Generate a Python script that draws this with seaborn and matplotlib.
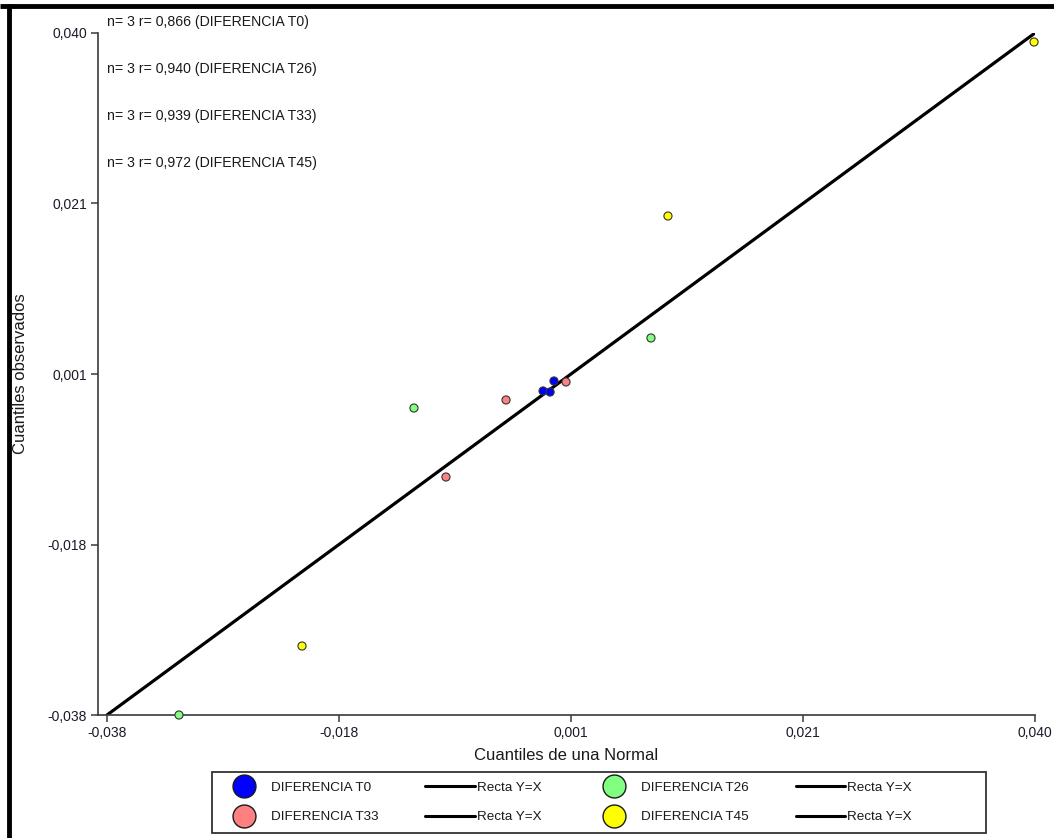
import matplotlib
matplotlib.use("Agg")
import matplotlib.pyplot as plt
from matplotlib.lines import Line2D
import numpy as np
import pandas as pd
import seaborn as sns

# Normal Q-Q data for each difference series (theoretical, observed)
series_names = ["DIFERENCIA T0", "DIFERENCIA T26", "DIFERENCIA T33", "DIFERENCIA T45"]
t0_theoretical = [-0.00135, -0.00076, -0.00043]
t0_observed = [-0.00094, -0.00106, 0.00020]
t26_theoretical = [-0.01220, 0.00772, -0.03195]
t26_observed = [-0.00289, 0.00512, -0.03800]
t33_theoretical = [-0.00446, 0.00058, -0.00951]
t33_observed = [-0.00197, 0.00009, -0.01078]
t45_theoretical = [-0.02161, 0.00915, 0.03992]
t45_observed = [-0.03011, 0.01907, 0.03897]
n_values = [3, 3, 3, 3]
r_values = ["0,866", "0,940", "0,939", "0,972"]

# Reference line Y = X
line_x = [-0.038, 0.040]
line_y = [-0.038, 0.040]

# Axis ticks
tick_values = [-0.038, -0.0185, 0.001, 0.0205, 0.040]
tick_labels = ["-0,038", "-0,018", "0,001", "0,021", "0,040"]

palette = {
    "DIFERENCIA T0": "#0000FF",
    "DIFERENCIA T26": "#80FF80",
    "DIFERENCIA T33": "#FF8080",
    "DIFERENCIA T45": "#FFFF00",
}

df = pd.concat([
    pd.DataFrame({"teorico": t0_theoretical, "observado": t0_observed, "serie": "DIFERENCIA T0"}),
    pd.DataFrame({"teorico": t26_theoretical, "observado": t26_observed, "serie": "DIFERENCIA T26"}),
    pd.DataFrame({"teorico": t33_theoretical, "observado": t33_observed, "serie": "DIFERENCIA T33"}),
    pd.DataFrame({"teorico": t45_theoretical, "observado": t45_observed, "serie": "DIFERENCIA T45"}),
], ignore_index=True)

sns.set_theme(style="white")
plt.rcParams["font.family"] = ["Liberation Sans", "DejaVu Sans"]

W, H = 1054, 838
fig = plt.figure(figsize=(W / 100, H / 100), dpi=100)
fig.patch.set_facecolor("white")


def fx(px):
    return px / W


def fy(py):
    return 1 - py / H


AX_L, AX_R, AX_T, AX_B = 98, 1035, 33, 715
ax = fig.add_axes([fx(AX_L), fy(AX_B), fx(AX_R) - fx(AX_L), fy(AX_T) - fy(AX_B)])
ax.set_facecolor("white")

sns.lineplot(x=line_x, y=line_y, ax=ax, color="black", linewidth=2.3, zorder=2)
sns.scatterplot(data=df, x="teorico", y="observado", hue="serie", palette=palette,
                s=34, edgecolor="#333333", linewidth=0.8, legend=False, ax=ax, zorder=3,
                clip_on=False)

x_left = -0.038 - 9 / 928 * 0.078
ax.set_xlim(x_left, 0.040)
ax.set_ylim(-0.038, 0.040)
ax.set_xticks(tick_values)
ax.set_xticklabels(tick_labels)
ax.set_yticks(tick_values)
ax.set_yticklabels(tick_labels)

for side in ["top", "right"]:
    ax.spines[side].set_visible(False)
for side in ["left", "bottom"]:
    ax.spines[side].set_color("#3a3a3a")
    ax.spines[side].set_linewidth(1.2)

ax.tick_params(axis="both", direction="out", length=5, width=1.1, color="#3a3a3a",
               labelsize=10, labelcolor="#1a1a2a", pad=3, left=True, bottom=True)

ax.set_xlabel("Cuantiles de una Normal", fontsize=12, color="#1a1a1a", labelpad=6)
ax.set_ylabel("Cuantiles observados", fontsize=12, color="#1a1a1a")
ax.yaxis.set_label_coords((28 - AX_L) / (AX_R - AX_L), 0.5)

# Correlation annotations
annot_y = [22, 69, 116, 163]
for name, n, r, py in zip(series_names, n_values, r_values, annot_y):
    fig.text(fx(107), fy(py), f"n= {n} r= {r} ({name})", fontsize=10.15,
             color="#1a1a1a", ha="left", va="center")

# Legend: markers and reference lines, two rows of four entries
def marker_handle(color):
    return Line2D([], [], linestyle="none", marker="o", markersize=16.5,
                  markerfacecolor=color, markeredgecolor="#1a1a1a", markeredgewidth=1.0)


def line_handle():
    return Line2D([], [], color="black", linewidth=2.2)


handles = [
    marker_handle(palette["DIFERENCIA T0"]), marker_handle(palette["DIFERENCIA T33"]),
    line_handle(), line_handle(),
    marker_handle(palette["DIFERENCIA T26"]), marker_handle(palette["DIFERENCIA T45"]),
    line_handle(), line_handle(),
]
labels = [
    "DIFERENCIA T0", "DIFERENCIA T33",
    "Recta Y=X", "Recta Y=X",
    "DIFERENCIA T26", "DIFERENCIA T45",
    "Recta Y=X", "Recta Y=X",
]
leg_x0, leg_x1 = 219, 912
leg = fig.legend(handles, labels, ncol=4, mode="expand", loc="center",
                 bbox_to_anchor=(fx(leg_x0), fy(833), fx(leg_x1) - fx(leg_x0), fy(772) - fy(833)),
                 bbox_transform=fig.transFigure, frameon=False, fontsize=9.7,
                 handlelength=3.7, handletextpad=0.15, borderpad=0, borderaxespad=0,
                 labelspacing=1.25)
for t in leg.get_texts():
    t.set_color("#1a1a1a")

# Legend frame
fig.add_artist(plt.Rectangle((fx(212), fy(833)), fx(986) - fx(212), fy(772) - fy(833),
                             transform=fig.transFigure, fill=False, edgecolor="#333333",
                             linewidth=1.3))

# Window border on top and left
fig.add_artist(Line2D([0, 1], [fy(6), fy(6)], transform=fig.transFigure, color="black",
                      linewidth=3.5, solid_capstyle="butt"))
fig.add_artist(Line2D([fx(8.5), fx(8.5)], [0, fy(4)], transform=fig.transFigure, color="black",
                      linewidth=3.5, solid_capstyle="butt"))

fig.savefig("out.png", dpi=100)
